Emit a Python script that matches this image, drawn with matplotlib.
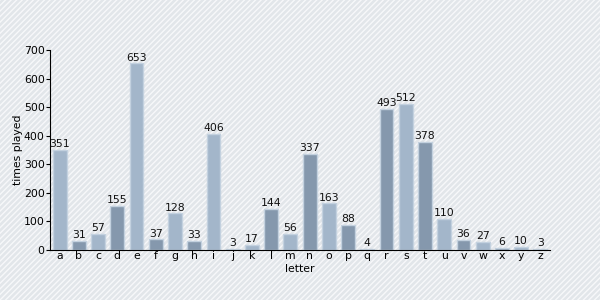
import matplotlib.pyplot as plt
import numpy as np
from matplotlib.patches import Rectangle
from matplotlib import rcParams
rcParams['font.family'] = 'DejaVu Sans'
rcParams['font.size'] = 7.8
rcParams['hatch.linewidth'] = 1.0

letters = list('abcdefghijklmnopqrstuvwxyz')
counts = [351, 31, 57, 155, 653, 37, 128, 33, 406, 3, 17, 144, 56,
          337, 163, 88, 4, 493, 512, 378, 110, 36, 27, 6, 10, 3]

light = '#a3b6ca'
dark = '#8598ad'
colors = [light if i % 2 == 0 else dark for i in range(len(letters))]

fig = plt.figure(figsize=(6, 3), dpi=100)
fig.patch.set_facecolor('#e2e6ea')
# striped background
bg = Rectangle((0, 0), 1, 1, transform=fig.transFigure, facecolor='none',
               edgecolor='#f7f8fa', hatch='//////', linewidth=0, zorder=-10)
fig.patches.append(bg)

ax = fig.add_axes([50/600, 50/300, 500/600, 200/300])
ax.patch.set_alpha(0)
x = np.arange(len(letters))
bars = ax.bar(x, counts, width=0.72, color=colors, edgecolor='#c3d1df', linewidth=1)
for xi, v in zip(x, counts):
    ax.text(xi, v + 3, str(v), ha='center', va='bottom', fontsize=7.8, color='#111111')

ax.set_xlim(-0.5, 25.5)
ax.set_ylim(0, 700)
ax.set_yticks(range(0, 701, 100))
ax.set_xticks(x)
ax.set_xticklabels(letters)
for s in ['top', 'right']:
    ax.spines[s].set_visible(False)
ax.tick_params(direction='out', length=3, pad=0.8, labelsize=7.8)
ax.tick_params(axis='x', length=0, pad=1)
ax.set_ylabel('times played', fontsize=7.8, va='center')
ax.yaxis.set_label_coords(-0.064, 0.5)
ax.set_xlabel('letter', fontsize=7.8, va='center')
ax.xaxis.set_label_coords(0.5, -0.095)

plt.savefig('out.png', dpi=100, facecolor=fig.get_facecolor())
